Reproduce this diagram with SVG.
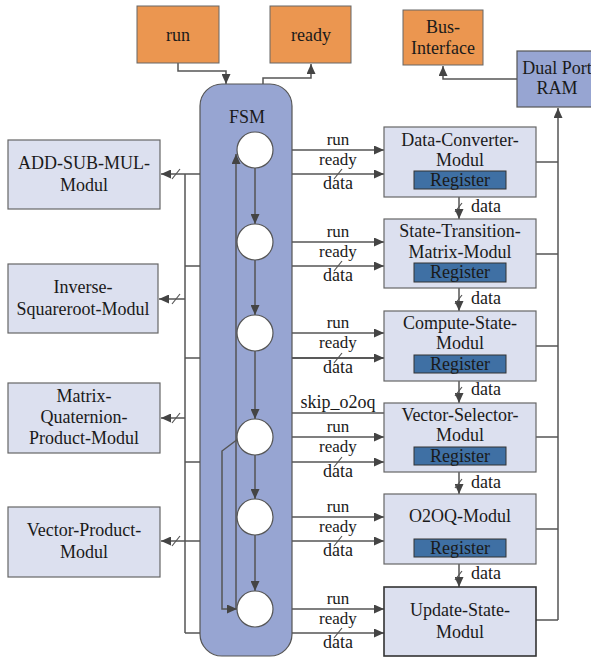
<svg xmlns="http://www.w3.org/2000/svg" width="591" height="657" viewBox="0 0 591 657">
  <style>
    text { font-size: 18px; fill: #1a1a1a; text-anchor: middle; }
    .sig { font-size: 17px; }
    .io { fill: #EB9650; stroke: #666; stroke-width: 1; }
    .mod { fill: #DCE0EF; stroke: #666; stroke-width: 1.2; }
    .reg { fill: #3F70A4; stroke: #333; stroke-width: 1; }
    .fsm { fill: #97A5D2; stroke: #555; stroke-width: 1.2; }
    .st { fill: #fff; stroke: #555; stroke-width: 1.2; }
    .ln { fill: none; stroke: #555; stroke-width: 1.5; }
    .arr { marker-end: url(#ah); }
    .bi { marker-start: url(#ah); marker-end: url(#ah); }
    .sl { stroke: #555; stroke-width: 1.2; }
  </style>
  <defs>
    <marker id="ah" markerUnits="userSpaceOnUse" markerWidth="10" markerHeight="9" refX="10" refY="4.5" orient="auto-start-reverse" viewBox="0 0 10 9">
      <path d="M0,0 L10,4.5 L0,9 z" fill="#444"/>
    </marker>
  </defs>
<g font-family="Liberation Serif, DejaVu Serif, serif">
  <!-- data bus lines that run underneath the FSM block -->
  <g id="connectors">
    <!-- left bus -->
    <path class="ln" d="M185,174 V633"/>
    <path class="ln" d="M185,174 H200 M185,266 H200 M185,358 H200 M185,462 H200 M185,541 H200 M185,633 H200"/>
    <path class="ln arr" d="M185,174 H161"/>
    <path class="ln arr" d="M185,299 H159"/>
    <path class="ln arr" d="M185,418 H161"/>
    <path class="ln arr" d="M185,541 H161"/>
    <path class="sl" d="M172,179 L180,169 M172,304 L180,294 M172,423 L180,413 M172,546 L180,536"/>

    <!-- top I/O -->
    <path class="ln arr" d="M178,63 V71 H226 V84"/>
    <path class="ln arr" d="M263,84 V78 H311 V64"/>
    <path class="ln arr" d="M517,79 H443 V66"/>

    <!-- module to RAM bus -->
    <path class="ln arr" d="M558,620 V108"/>
    <path class="ln" d="M536,162 H558 M536,254 H558 M536,346 H558 M536,437 H558 M536,529 H558 M536,620 H558"/>

    <!-- FSM to modules: run/ready and data -->
    <path class="ln bi" d="M274,150 H384"/>
    <path class="ln arr" d="M292,174 H384"/>
    <path class="ln bi" d="M274,242 H384"/>
    <path class="ln arr" d="M292,266 H384"/>
    <path class="ln bi" d="M274,333 H384"/>
    <path class="ln arr" d="M292,358 H384" style="stroke:#222"/>
    <path class="ln bi" d="M274,437 H384"/>
    <path class="ln arr" d="M292,462 H384"/>
    <path class="ln bi" d="M274,517 H384"/>
    <path class="ln arr" d="M292,541 H384"/>
    <path class="ln bi" d="M274,609 H384"/>
    <path class="ln arr" d="M292,633 H384"/>
    <path class="sl" d="M334,179 L342,169 M334,271 L342,261 M334,363 L342,353 M334,467 L342,457 M334,546 L342,536 M334,638 L342,628"/>

    <!-- skip_o2oq -->
    <path class="ln arr" d="M384,413 H285 L270,425"/>

    <!-- module to module data -->
    <path class="ln arr" d="M459,197 V219"/>
    <path class="ln arr" d="M459,288 V311"/>
    <path class="ln arr" d="M459,381 V403"/>
    <path class="ln arr" d="M459,472 V494"/>
    <path class="ln arr" d="M459,564 V587"/>
    <path class="sl" d="M455,212 L462,203 M455,304 L462,295 M455,396 L462,387 M455,488 L462,479 M455,580 L462,571"/>
  </g>

  <!-- FSM block with its states -->
  <g id="fsm">
    <rect class="fsm" x="200" y="84" width="92" height="572" rx="22"/>
    <text x="247" y="123">FSM</text>
    <g id="fsm-transitions">
      <path class="ln arr" d="M255,168 V224"/>
      <path class="ln arr" d="M255,260 V315"/>
      <path class="ln arr" d="M255,351 V419"/>
      <path class="ln arr" d="M255,455 V499"/>
      <path class="ln arr" d="M255,535 V591"/>
      <path class="ln arr" d="M236,609 V154"/>
      <path class="ln arr" d="M238,439 L222,451 V609 H237"/>
    </g>
    <circle class="st" cx="255" cy="150" r="18"/>
    <circle class="st" cx="255" cy="242" r="18"/>
    <circle class="st" cx="255" cy="333" r="18"/>
    <circle class="st" cx="255" cy="437" r="18"/>
    <circle class="st" cx="255" cy="517" r="18"/>
    <circle class="st" cx="255" cy="609" r="18"/>
  </g>

  <!-- signal labels -->
  <g id="labels">
    <text class="sig" x="338" y="145">run</text><text class="sig" x="338" y="165">ready</text><text x="338" y="189">data</text>
    <text class="sig" x="338" y="237">run</text><text class="sig" x="338" y="257">ready</text><text x="338" y="281">data</text>
    <text class="sig" x="338" y="328">run</text><text class="sig" x="338" y="348">ready</text><text x="338" y="373">data</text>
    <text x="338" y="408">skip_o2oq</text>
    <text class="sig" x="338" y="432">run</text><text class="sig" x="338" y="452">ready</text><text x="338" y="477">data</text>
    <text class="sig" x="338" y="512">run</text><text class="sig" x="338" y="532">ready</text><text x="338" y="556">data</text>
    <text class="sig" x="338" y="604">run</text><text class="sig" x="338" y="624">ready</text><text x="338" y="648">data</text>
    <text x="486" y="212">data</text>
    <text x="486" y="304">data</text>
    <text x="486" y="395">data</text>
    <text x="486" y="488">data</text>
    <text x="486" y="579">data</text>
  </g>

  <!-- top I/O blocks -->
  <g id="run">
    <rect class="io" x="137" y="6" width="82" height="57"/>
    <text x="178" y="41">run</text>
  </g>
  <g id="ready">
    <rect class="io" x="270" y="6" width="81" height="57"/>
    <text x="311" y="41">ready</text>
  </g>
  <g id="bus-interface">
    <rect class="io" x="403" y="10" width="80" height="55"/>
    <text x="443" y="33">Bus-</text>
    <text x="443" y="54">Interface</text>
  </g>
  <g id="dual-port-ram">
    <rect class="fsm" x="517" y="51" width="80" height="56"/>
    <text x="557" y="74">Dual Port</text>
    <text x="557" y="94">RAM</text>
  </g>

  <!-- arithmetic modules (left) -->
  <g id="add-sub-mul">
    <rect class="mod" x="8" y="140" width="152" height="69"/>
    <text x="84" y="169">ADD-SUB-MUL-</text>
    <text x="84" y="191">Modul</text>
  </g>
  <g id="inverse-squareroot">
    <rect class="mod" x="8" y="264" width="150" height="69"/>
    <text x="83" y="293">Inverse-</text>
    <text x="83" y="315">Squareroot-Modul</text>
  </g>
  <g id="matrix-quaternion-product">
    <rect class="mod" x="8" y="383" width="152" height="70"/>
    <text x="84" y="402">Matrix-</text>
    <text x="84" y="423">Quaternion-</text>
    <text x="84" y="444">Product-Modul</text>
  </g>
  <g id="vector-product">
    <rect class="mod" x="8" y="507" width="152" height="70"/>
    <text x="84" y="536">Vector-Product-</text>
    <text x="84" y="558">Modul</text>
  </g>

  <!-- pipeline modules (right) -->
  <g id="data-converter">
    <rect class="mod" x="384" y="127" width="152" height="70"/>
    <text x="460" y="146">Data-Converter-</text>
    <text x="460" y="166">Modul</text>
    <rect class="reg" x="414" y="171" width="92" height="18"/>
    <text x="460" y="186">Register</text>
  </g>
  <g id="state-transition-matrix">
    <rect class="mod" x="384" y="219" width="152" height="69"/>
    <text x="460" y="237">State-Transition-</text>
    <text x="460" y="258">Matrix-Modul</text>
    <rect class="reg" x="414" y="263" width="92" height="19"/>
    <text x="460" y="278">Register</text>
  </g>
  <g id="compute-state">
    <rect class="mod" x="384" y="311" width="152" height="70"/>
    <text x="460" y="329">Compute-State-</text>
    <text x="460" y="349">Modul</text>
    <rect class="reg" x="414" y="355" width="92" height="18"/>
    <text x="460" y="370">Register</text>
  </g>
  <g id="vector-selector">
    <rect class="mod" x="384" y="403" width="152" height="69"/>
    <text x="460" y="421">Vector-Selector-</text>
    <text x="460" y="441">Modul</text>
    <rect class="reg" x="414" y="447" width="92" height="18"/>
    <text x="460" y="462">Register</text>
  </g>
  <g id="o2oq">
    <rect class="mod" x="384" y="494" width="152" height="70"/>
    <text x="460" y="522">O2OQ-Modul</text>
    <rect class="reg" x="414" y="539" width="92" height="18"/>
    <text x="460" y="554">Register</text>
  </g>
  <g id="update-state">
    <rect class="mod" x="384" y="587" width="152" height="69" style="stroke:#333;stroke-width:1.6"/>
    <text x="460" y="616">Update-State-</text>
    <text x="460" y="638">Modul</text>
  </g>
</g>
</svg>
